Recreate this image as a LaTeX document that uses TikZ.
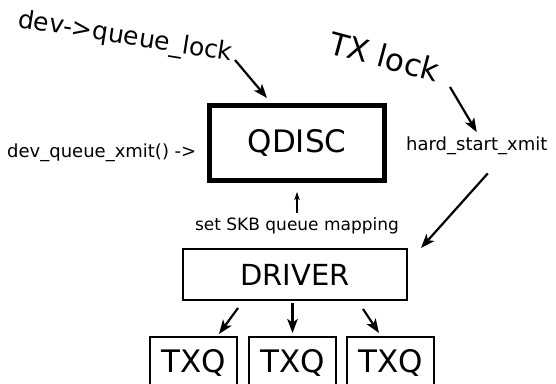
\documentclass[tikz,border=0pt]{standalone}
\usepackage{fontspec}
\setmainfont{DejaVu Sans}
\usetikzlibrary{arrows.meta}

\begin{document}
\begin{tikzpicture}
[
	x=1pt, y=-1pt,
	qdiscbox/.style={draw,line width=5pt,inner sep=0pt,minimum width=175pt,minimum height=75pt,font=\fontsize{31}{36}\selectfont},
	drvbox/.style={draw,line width=2pt,inner sep=0pt,minimum width=224pt,minimum height=51pt,font=\fontsize{29}{34}\selectfont},
	txqbox/.style={draw,line width=2pt,minimum width=87pt,inner xsep=0pt,inner ysep=11pt,text height=24pt,text depth=40pt,anchor=north,font=\fontsize{31}{36}\selectfont},
	lbl/.style={inner sep=0pt,anchor=base west,font=\fontsize{18}{22}\selectfont},
	arr/.style={-{Stealth[length=14pt,width=10.5pt,inset=3.5pt]},line width=2.2pt},
	smallarr/.style={-{Stealth[length=8pt,width=5.5pt,inset=2pt]},line width=1.1pt}
]

	\useasboundingbox (0,0) rectangle (556,383);

	% boxes
	\node[qdiscbox] (qdisc) at (297,143) {QDISC};
	\node[drvbox] (drv) at (295,274.5) {DRIVER};
	\node[txqbox] (q1) at (193.5,336) {TXQ};
	\node[txqbox] (q2) at (292.5,336) {TXQ};
	\node[txqbox] (q3) at (390.5,336) {TXQ};

	% labels
	\node[lbl,rotate=-9,font=\fontsize{25}{30}\selectfont] (qlock) at (17,27) {dev->queue\_lock};
	\node[lbl,rotate=-15,font=\fontsize{31}{36}\selectfont] (txlock) at (327,53) {TX lock};
	\node[lbl] (dqx) at (7,157.5) {dev\_queue\_xmit() ->};
	\node[lbl] (hse) at (406,150) {hard\_start\_xmit};
	\node[lbl,anchor=base,font=\fontsize{17}{20}\selectfont] (skb) at (297,230) {set SKB queue mapping};

	\coordinate (lktail) at (235,60);
	\coordinate (txtail) at (450,87);

	% arrows
	\draw[arr] (lktail) -- ([xshift=60pt,yshift=5pt]qdisc.north west);
	\draw[arr] (txtail) -- ([yshift=4pt]hse.north);
	\draw[arr] ([xshift=11pt,yshift=-19pt]hse.south) -- ([xshift=13pt]drv.north east);
	\draw[smallarr] ([yshift=4pt]skb.north) -- ([yshift=-9pt]qdisc.south);

	\draw[arr] ([xshift=-57pt,yshift=-7pt]drv.south) -- ([xshift=25.5pt,yshift=2pt]q1.north);
	\draw[arr] ([xshift=-2.5pt,yshift=-2pt]drv.south) -- ([yshift=3pt]q2.north);
	\draw[arr] ([xshift=68pt,yshift=-8pt]drv.south) -- ([xshift=-11.5pt,yshift=3pt]q3.north);

\end{tikzpicture}
\end{document}
